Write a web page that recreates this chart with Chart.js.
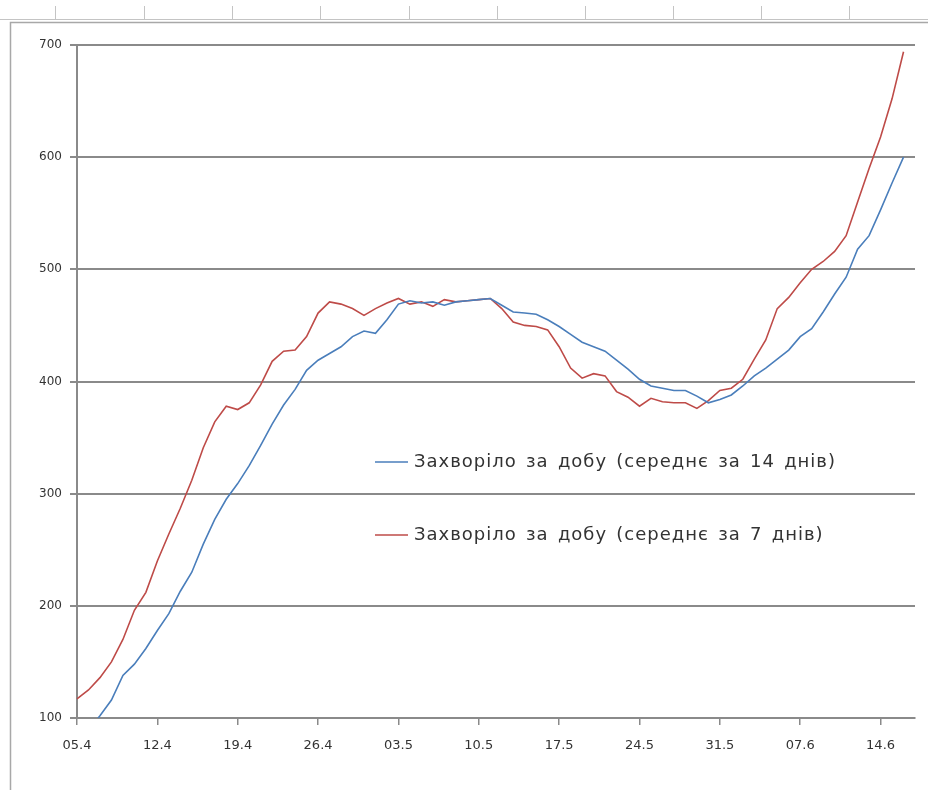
<!DOCTYPE html>
<html>
<head>
<meta charset="utf-8">
<script src="https://cdn.jsdelivr.net/npm/chart.js@4/dist/chart.umd.min.js"></script>
<style>
  html, body { margin: 0; padding: 0; background: #ffffff; }
  #wrap { position: relative; width: 928px; height: 792px; }
</style>
</head>
<body>
<div id="wrap"><canvas id="chart" width="928" height="792"></canvas></div>
<script>
// Daily categories, 05.4 – 17.6
const days = [
  '05.4','06.4','07.4','08.4','09.4','10.4','11.4','12.4','13.4','14.4','15.4','16.4','17.4','18.4',
  '19.4','20.4','21.4','22.4','23.4','24.4','25.4','26.4','27.4','28.4','29.4','30.4',
  '01.5','02.5','03.5','04.5','05.5','06.5','07.5','08.5','09.5','10.5','11.5','12.5','13.5','14.5',
  '15.5','16.5','17.5','18.5','19.5','20.5','21.5','22.5','23.5','24.5','25.5','26.5','27.5','28.5',
  '29.5','30.5','31.5',
  '01.6','02.6','03.6','04.6','05.6','06.6','07.6','08.6','09.6','10.6','11.6','12.6','13.6','14.6',
  '15.6','16.6','17.6'
];

// New cases per day, 14-day average
const avg14 = [
   76,  89, 102, 116, 138, 148, 162, 178, 193, 213, 230, 255, 277, 295,
  309, 325, 343, 362, 379, 393, 410, 419, 425, 431, 440, 445, 443, 455,
  469, 472, 470, 471, 468, 471, 472, 473, 474, 468, 462, 461, 460, 455,
  449, 442, 435, 431, 427, 419, 411, 402, 396, 394, 392, 392, 387, 381,
  384, 388, 396, 405, 412, 420, 428, 440, 447, 462, 478, 493, 518, 530,
  553, 577, 600
];

// New cases per day, 7-day average
const avg7 = [
  117, 125, 136, 150, 170, 196, 212, 240, 264, 287, 312, 341, 364, 378,
  375, 381, 397, 418, 427, 428, 440, 461, 471, 469, 465, 459, 465, 470,
  474, 469, 471, 467, 473, 471, 472, 473, 474, 465, 453, 450, 449, 446,
  431, 412, 403, 407, 405, 391, 386, 378, 385, 382, 381, 381, 376, 383,
  392, 394, 402, 420, 437, 465, 475, 488, 500, 507, 516, 530, 560, 590,
  618, 652, 694
];

const seriesNames = [
  'Захворіло за добу (середнє за 14 днів)',
  'Захворіло за добу (середнє за 7 днів)'
];

const yMin = 100, yMax = 700, yStep = 100;
const tickEvery = 7;

const gridColor = '#8a8a8a';
const textColor = '#333333';
const fontFamily = "'DejaVu Sans', 'Liberation Sans', sans-serif";

// Page frame and the small marks along its top edge
const framePlugin = {
  id: 'frame',
  beforeDraw(chart) {
    const ctx = chart.ctx;
    ctx.save();
    ctx.fillStyle = '#ffffff';
    ctx.fillRect(0, 0, chart.width, chart.height);
    ctx.strokeStyle = '#a8a8a8';
    ctx.lineWidth = 1.5;
    ctx.beginPath();
    ctx.moveTo(10.5, 790);
    ctx.lineTo(10.5, 22.5);
    ctx.lineTo(928, 22.5);
    ctx.stroke();
    ctx.strokeStyle = '#c4c4c4';
    ctx.lineWidth = 1;
    ctx.beginPath();
    ctx.moveTo(0, 19.5);
    ctx.lineTo(928, 19.5);
    [55, 144, 232, 320, 409, 497, 585, 673, 761, 849].forEach(x => {
      ctx.moveTo(x + 0.5, 6);
      ctx.lineTo(x + 0.5, 20);
    });
    ctx.stroke();
    ctx.restore();
  }
};

// Legend drawn inside the plot area
const legendBox = { x: 375, y: 462, rowGap: 73, sample: 33, textGap: 6, width: 422, fontSize: 18 };
const innerLegendPlugin = {
  id: 'innerLegend',
  afterDraw(chart) {
    const ctx = chart.ctx;
    ctx.save();
    ctx.font = legendBox.fontSize + 'px ' + fontFamily;
    ctx.letterSpacing = '1px';
    ctx.textBaseline = 'middle';
    const firstWords = chart.data.datasets[0].label.split(' ');
    const firstW = firstWords.reduce((s, w) => s + ctx.measureText(w).width, 0);
    const gap = (legendBox.width - firstW) / (firstWords.length - 1);
    chart.data.datasets.forEach((ds, k) => {
      const y = legendBox.y + k * legendBox.rowGap;
      ctx.strokeStyle = ds.borderColor;
      ctx.lineWidth = 1.5;
      ctx.beginPath();
      ctx.moveTo(legendBox.x, y);
      ctx.lineTo(legendBox.x + legendBox.sample, y);
      ctx.stroke();
      ctx.fillStyle = textColor;
      let tx = legendBox.x + legendBox.sample + legendBox.textGap;
      ds.label.split(' ').forEach(w => {
        ctx.fillText(w, tx, y);
        tx += ctx.measureText(w).width + gap;
      });
    });
    ctx.restore();
  }
};

new Chart(document.getElementById('chart'), {
  type: 'line',
  data: {
    labels: days,
    datasets: [
      { label: seriesNames[0], data: avg14, borderColor: '#4a7ebb', borderWidth: 1.6,
        pointRadius: 0, tension: 0, fill: false },
      { label: seriesNames[1], data: avg7, borderColor: '#be4b48', borderWidth: 1.6,
        pointRadius: 0, tension: 0, fill: false }
    ]
  },
  options: {
    responsive: false,
    animation: false,
    events: [],
    layout: { padding: { left: 0, top: 45, right: 11, bottom: 0 } },
    plugins: { legend: { display: false }, tooltip: { enabled: false } },
    scales: {
      x: {
        type: 'category',
        offset: false,
        grid: {
          display: true,
          drawOnChartArea: false,
          drawTicks: true,
          tickLength: 7,
          lineWidth: 1.5,
          color: c => (c.index % tickEvery === 0 ? gridColor : 'rgba(0,0,0,0)'),
          tickColor: c => (c.index % tickEvery === 0 ? gridColor : 'rgba(0,0,0,0)')
        },
        border: { display: true, color: gridColor, width: 2 },
        ticks: {
          autoSkip: false,
          maxRotation: 0,
          minRotation: 0,
          padding: 13,
          color: textColor,
          font: { family: fontFamily, size: 13 },
          callback: (v, i) => (i % tickEvery === 0 ? days[i] : '')
        },
        afterFit: s => { s.height = 74; }
      },
      y: {
        min: yMin,
        max: yMax,
        grid: { color: gridColor, lineWidth: 2, tickLength: 7, drawTicks: true },
        border: { display: true, color: gridColor, width: 2 },
        ticks: {
          stepSize: yStep,
          padding: 8,
          color: textColor,
          font: { family: fontFamily, size: 12 }
        },
        afterFit: s => { s.width = 77; }
      }
    }
  },
  plugins: [framePlugin, innerLegendPlugin]
});
</script>
</body>
</html>
